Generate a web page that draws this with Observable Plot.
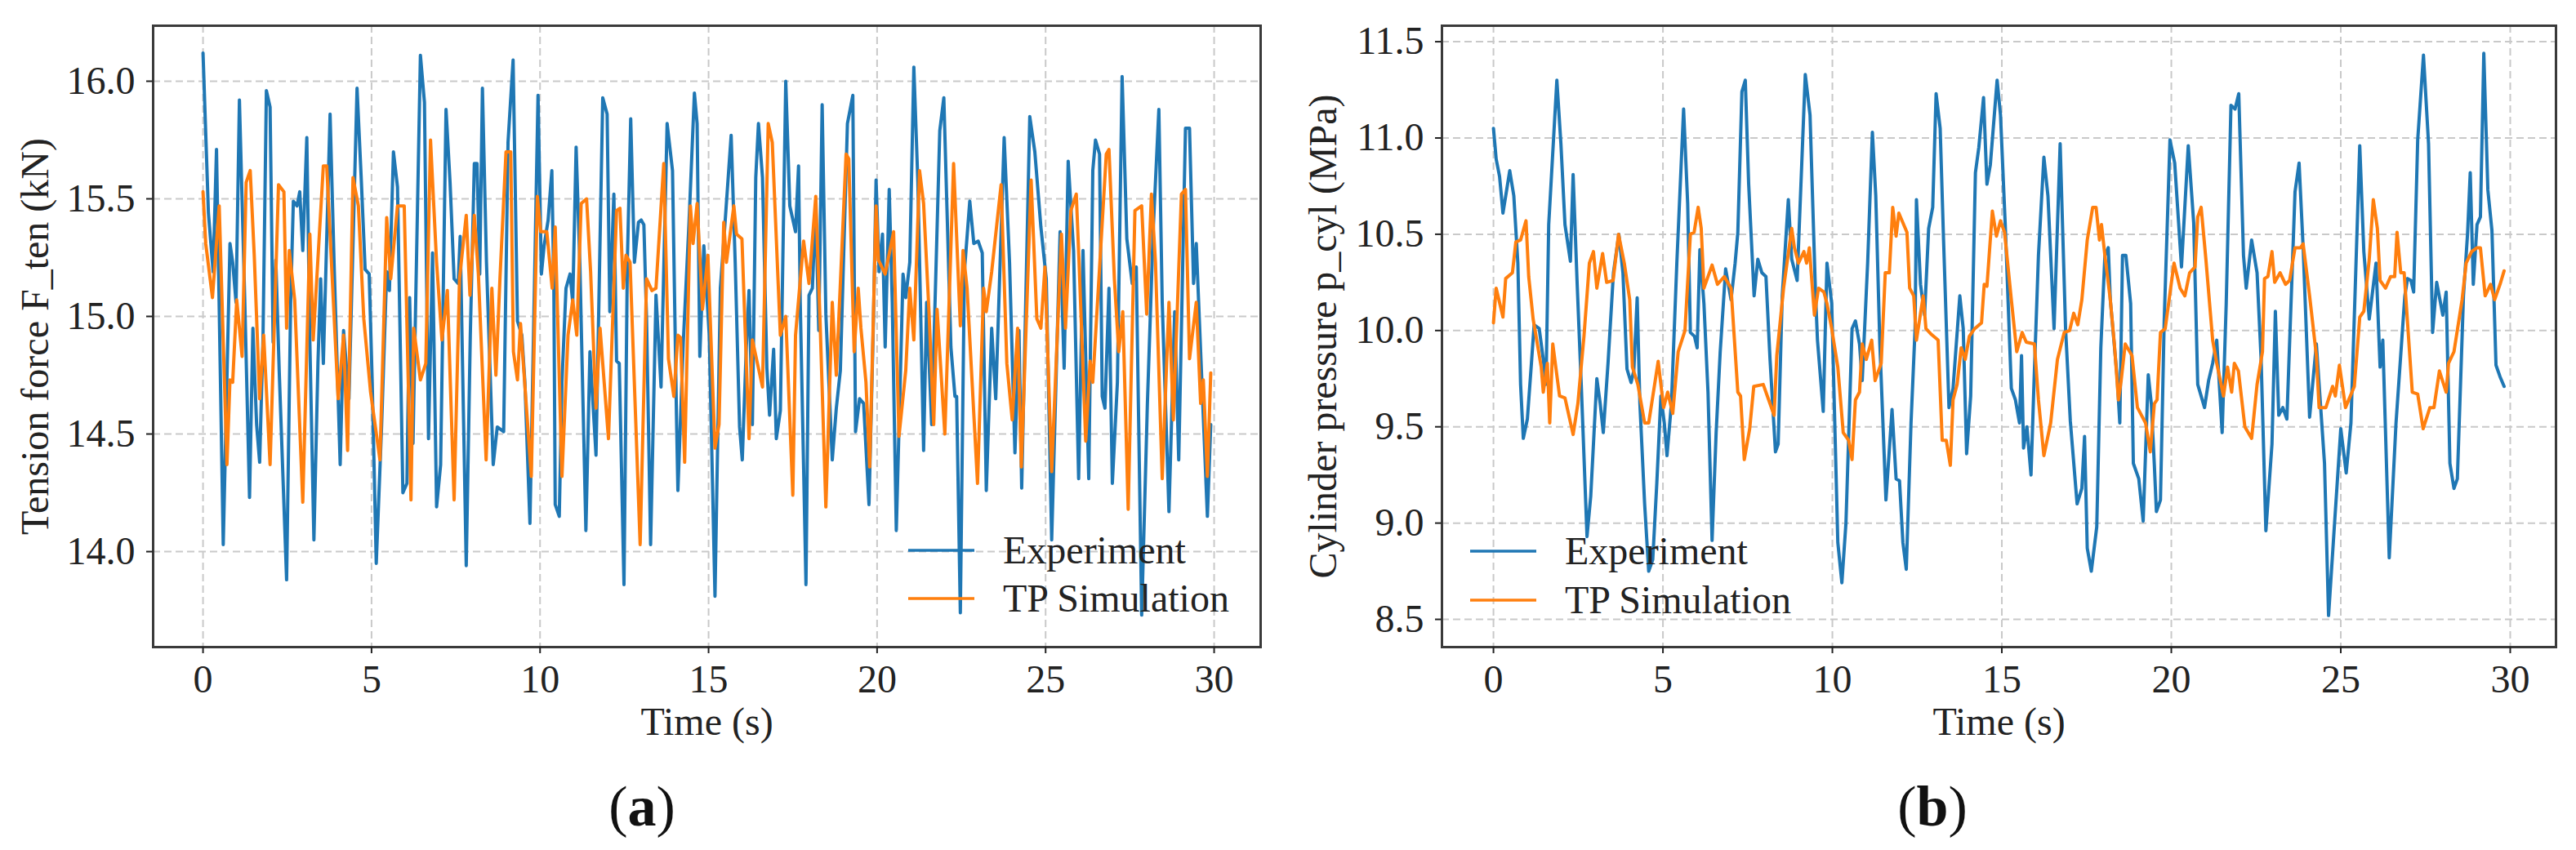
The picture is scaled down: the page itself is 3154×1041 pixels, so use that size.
<!DOCTYPE html>
<html>
<head>
<meta charset="utf-8">
<script src="https://cdn.jsdelivr.net/npm/d3@7"></script>
<script src="https://cdn.jsdelivr.net/npm/@observablehq/plot@0.6"></script>
<style>
  body { margin: 0; background: #fff; }
  #wrap { position: relative; width: 3154px; height: 1041px; background: #fff; overflow: hidden; }
  #wrap svg.plot { position: absolute; top: 0; }
  .leg { position: absolute; font-family: "Liberation Serif", serif; font-size: 48px; color: #222; line-height: 1; white-space: nowrap; }
  .panel-tag { position: absolute; font-family: "Liberation Serif", serif; font-size: 70px; color: #111; line-height: 1; transform: translate(-50%, -50%); }
</style>
</head>
<body>
<div id="wrap"></div>
<script>
// ---------- data: [time s, value] ----------
const timeTicks = [0, 5, 10, 15, 20, 25, 30];
const tensionTicks = [14.0, 14.5, 15.0, 15.5, 16.0];
const pressureTicks = [8.5, 9.0, 9.5, 10.0, 10.5, 11.0, 11.5];
const seriesNames = ["Experiment", "TP Simulation"];

// (a) tension force F_ten (kN)
const tensionExp = [
  [0,16.12],[0.16,15.44],[0.30,15.19],[0.40,15.71],[0.60,14.03],[0.80,15.31],[0.88,15.23],[0.98,15.06],[1.08,15.92],[1.24,15.06],
  [1.38,14.23],[1.48,14.95],[1.59,14.54],[1.68,14.38],[1.78,14.91],[1.88,15.96],[1.99,15.89],[2.08,14.89],[2.16,15.24],[2.26,14.77],
  [2.48,13.88],[2.60,15.06],[2.68,15.49],[2.79,15.47],[2.87,15.53],[2.96,15.28],[3.08,15.76],[3.17,14.89],[3.29,14.05],[3.41,14.80],
  [3.49,15.16],[3.57,14.80],[3.77,15.86],[3.89,15.22],[4.07,14.37],[4.17,14.94],[4.33,14.65],[4.57,15.97],[4.69,15.60],[4.81,15.20],
  [4.93,15.18],[5.02,14.72],[5.14,13.95],[5.30,14.54],[5.45,15.19],[5.53,15.11],[5.65,15.70],[5.77,15.55],[5.93,14.25],[6.05,14.29],
  [6.13,15.08],[6.23,14.46],[6.45,16.11],[6.57,15.91],[6.69,14.48],[6.81,15.27],[6.93,14.19],[7.05,14.37],[7.21,15.88],[7.33,15.57],
  [7.45,15.16],[7.57,15.14],[7.63,15.34],[7.81,13.94],[7.93,14.92],[8.05,15.65],[8.13,15.65],[8.21,15.18],[8.29,15.97],[8.41,15.23],
  [8.61,14.37],[8.73,14.53],[8.92,14.51],[9.05,15.74],[9.20,16.09],[9.33,14.98],[9.46,14.92],[9.55,14.72],[9.70,14.12],[9.94,15.94],
  [10.04,15.18],[10.12,15.30],[10.24,15.41],[10.35,15.62],[10.41,15.11],[10.45,14.20],[10.57,14.15],[10.65,14.72],[10.77,15.12],[10.89,15.18],
  [10.97,15.06],[11.07,15.72],[11.18,15.23],[11.36,14.09],[11.48,14.85],[11.66,14.41],[11.86,15.93],[11.99,15.86],[12.07,15.02],[12.19,15.52],
  [12.27,14.81],[12.35,14.80],[12.49,13.86],[12.59,15.23],[12.69,15.84],[12.80,15.23],[12.92,15.40],[13.00,15.41],[13.08,15.39],[13.16,14.99],
  [13.28,14.03],[13.44,15.09],[13.59,14.70],[13.77,15.82],[13.93,15.62],[14.05,14.56],[14.09,14.26],[14.25,14.89],[14.42,15.40],[14.58,15.95],
  [14.66,15.82],[14.74,14.83],[14.86,15.30],[15.02,14.92],[15.19,13.81],[15.35,15.12],[15.47,15.36],[15.67,15.77],[15.79,15.23],[15.92,14.53],
  [16.00,14.39],[16.12,14.87],[16.20,15.11],[16.30,14.54],[16.40,15.59],[16.48,15.82],[16.60,15.59],[16.73,14.78],[16.81,14.58],[16.93,14.86],
  [17.01,14.48],[17.13,14.60],[17.29,16.00],[17.41,15.47],[17.58,15.36],[17.67,15.64],[17.72,15.06],[17.89,13.86],[17.98,15.09],[18.08,15.12],
  [18.18,15.47],[18.27,14.94],[18.37,15.90],[18.48,15.01],[18.67,14.39],[18.79,14.61],[18.91,14.77],[19.12,15.82],[19.28,15.94],[19.36,14.51],
  [19.48,14.65],[19.60,14.63],[19.76,14.20],[19.89,14.97],[19.97,15.58],[20.06,15.19],[20.16,15.35],[20.24,14.87],[20.36,15.54],[20.45,15.06],
  [20.57,14.09],[20.77,15.18],[20.85,15.08],[20.97,15.23],[21.09,16.06],[21.21,15.57],[21.38,14.43],[21.47,15.06],[21.62,14.54],[21.86,15.79],
  [21.98,15.93],[22.19,14.87],[22.31,14.66],[22.36,14.66],[22.47,13.74],[22.59,15.19],[22.75,15.49],[22.87,15.31],[23.00,15.32],[23.12,15.27],
  [23.24,14.26],[23.40,14.95],[23.52,14.65],[23.77,15.76],[23.93,15.23],[24.09,14.42],[24.21,14.94],[24.29,14.27],[24.53,15.85],[24.68,15.70],
  [24.86,15.38],[25.02,15.16],[25.18,14.05],[25.43,15.36],[25.55,14.78],[25.67,15.66],[25.83,15.28],[25.98,14.31],[26.11,15.28],[26.28,14.31],
  [26.40,15.62],[26.48,15.75],[26.60,15.69],[26.68,14.66],[26.76,14.61],[26.88,15.12],[26.98,14.29],[27.13,14.72],[27.27,16.02],[27.41,15.33],
  [27.57,15.14],[27.69,15.21],[27.85,13.73],[28.02,14.63],[28.19,15.36],[28.36,15.88],[28.46,15.06],[28.66,14.17],[28.83,15.02],[28.95,14.39],
  [29.15,15.80],[29.27,15.80],[29.39,15.14],[29.47,15.31],[29.60,14.85],[29.80,14.15],[29.90,14.54]
];
const tensionSim = [
  [0,15.53],[0.08,15.31],[0.28,15.08],[0.48,15.47],[0.71,14.37],[0.80,14.73],[0.88,14.72],[1.00,15.07],[1.16,14.83],[1.28,15.57],
  [1.40,15.62],[1.52,15.26],[1.68,14.65],[1.80,14.92],[1.99,14.37],[2.24,15.56],[2.40,15.53],[2.48,14.95],[2.56,15.28],[2.72,15.07],
  [2.96,14.21],[3.17,15.35],[3.27,14.90],[3.57,15.64],[3.67,15.64],[4.01,14.65],[4.17,14.92],[4.29,14.43],[4.45,15.59],[4.61,15.47],
  [4.77,14.99],[4.97,14.68],[5.25,14.39],[5.45,15.42],[5.57,15.16],[5.77,15.47],[5.97,15.47],[6.17,14.22],[6.25,14.95],[6.45,14.73],
  [6.61,14.80],[6.75,15.75],[6.93,15.23],[7.09,14.90],[7.25,15.11],[7.45,14.22],[7.61,15.16],[7.81,15.43],[7.92,15.09],[8.05,15.43],
  [8.17,15.18],[8.40,14.39],[8.57,15.12],[8.69,14.75],[8.81,15.16],[8.99,15.70],[9.13,15.70],[9.21,14.85],[9.33,14.73],[9.42,14.97],
  [9.74,14.32],[9.92,15.51],[10.02,15.36],[10.20,15.36],[10.36,15.12],[10.45,15.38],[10.65,14.32],[10.83,14.92],[10.97,15.07],[11.09,14.92],
  [11.22,15.48],[11.38,15.50],[11.50,15.19],[11.66,14.61],[11.78,14.95],[12.03,14.48],[12.27,15.45],[12.37,15.46],[12.47,15.12],[12.55,15.26],
  [12.67,15.23],[12.97,14.03],[13.16,15.16],[13.32,15.11],[13.44,15.12],[13.67,15.65],[13.81,14.82],[13.97,14.66],[14.09,14.92],[14.17,14.91],
  [14.29,14.38],[14.46,15.47],[14.54,15.31],[14.66,15.48],[14.82,15.03],[14.98,15.26],[15.19,14.44],[15.31,14.54],[15.45,15.40],[15.53,15.23],
  [15.75,15.47],[15.83,15.35],[15.99,15.33],[16.20,14.48],[16.30,14.90],[16.60,14.70],[16.77,15.82],[16.89,15.74],[17.13,14.92],[17.29,15.00],
  [17.50,14.24],[17.58,14.92],[17.82,15.32],[17.98,15.14],[18.18,15.51],[18.31,14.97],[18.48,14.19],[18.67,15.06],[18.79,14.75],[19.08,15.69],
  [19.16,15.67],[19.32,14.85],[19.44,15.12],[19.52,14.95],[19.67,14.72],[19.78,14.36],[19.97,15.47],[20.04,15.24],[20.24,15.18],[20.49,15.36],
  [20.65,14.49],[20.85,14.77],[20.97,15.12],[21.09,14.90],[21.26,15.62],[21.38,15.48],[21.54,15.02],[21.68,14.54],[21.78,15.03],[22.01,14.50],
  [22.27,15.65],[22.47,14.96],[22.55,15.28],[22.67,15.12],[22.98,14.29],[23.16,15.12],[23.24,15.02],[23.40,15.19],[23.68,15.56],[23.85,14.80],
  [24.01,14.56],[24.17,14.95],[24.28,14.36],[24.57,15.58],[24.74,14.99],[24.86,14.95],[24.98,15.21],[25.18,14.34],[25.47,15.35],[25.59,14.95],
  [25.75,15.45],[25.91,15.52],[25.99,15.24],[26.19,14.47],[26.32,14.81],[26.40,14.72],[26.80,15.69],[26.88,15.71],[27.04,15.16],[27.17,14.85],
  [27.29,15.02],[27.45,14.18],[27.65,15.45],[27.85,15.47],[28.00,15.01],[28.14,15.52],[28.26,15.23],[28.46,14.31],[28.66,15.06],[28.79,14.56],
  [29.03,15.52],[29.15,15.54],[29.27,14.82],[29.47,15.06],[29.60,14.63],[29.68,14.73],[29.80,14.32],[29.90,14.76]
];

// (b) cylinder pressure p_cyl (MPa)
const pressureExp = [
  [0,11.05],[0.08,10.89],[0.18,10.80],[0.28,10.61],[0.48,10.83],[0.60,10.70],[0.72,10.35],[0.80,9.72],[0.88,9.44],[1.00,9.54],
  [1.12,9.83],[1.20,10.03],[1.35,10.01],[1.47,9.85],[1.55,9.72],[1.63,10.55],[1.87,11.30],[1.99,10.97],[2.11,10.55],[2.27,10.36],
  [2.35,10.81],[2.47,10.24],[2.59,9.72],[2.76,8.93],[2.87,9.14],[3.05,9.75],[3.15,9.62],[3.24,9.47],[3.38,9.83],[3.54,10.30],
  [3.70,10.50],[3.82,10.30],[3.94,9.80],[4.06,9.73],[4.14,9.79],[4.24,10.17],[4.32,9.62],[4.46,9.10],[4.58,8.75],[4.70,8.81],
  [4.82,9.21],[4.94,9.66],[5.04,9.52],[5.12,9.35],[5.25,9.62],[5.41,10.35],[5.61,11.15],[5.73,10.66],[5.81,9.99],[5.93,9.97],
  [6.01,9.91],[6.09,10.42],[6.21,10.14],[6.33,9.68],[6.45,8.91],[6.57,9.47],[6.69,9.89],[6.85,10.32],[7.01,10.16],[7.13,10.35],
  [7.21,10.51],[7.33,11.24],[7.43,11.30],[7.53,10.76],[7.69,10.18],[7.80,10.37],[7.92,10.30],[8.04,10.28],[8.16,9.85],[8.32,9.37],
  [8.40,9.41],[8.52,10.18],[8.70,10.68],[8.80,10.37],[8.96,10.26],[9.20,11.33],[9.34,11.12],[9.50,10.20],[9.56,9.95],[9.73,9.58],
  [9.84,10.35],[9.98,10.14],[10.16,8.90],[10.28,8.69],[10.40,9.00],[10.58,10.01],[10.68,10.05],[10.80,9.93],[10.88,9.74],[11.04,10.35],
  [11.18,11.03],[11.28,10.70],[11.40,9.93],[11.58,9.12],[11.76,9.59],[11.88,9.23],[11.98,9.22],[12.08,8.90],[12.18,8.76],[12.32,9.52],
  [12.44,10.01],[12.48,10.68],[12.60,10.24],[12.72,10.08],[12.84,10.53],[12.96,10.64],[13.06,11.23],[13.18,11.05],[13.28,10.47],[13.44,9.60],
  [13.56,9.70],[13.76,10.18],[13.86,10.01],[13.96,9.36],[14.08,9.66],[14.22,10.82],[14.32,10.95],[14.46,11.21],[14.56,10.76],[14.66,10.86],
  [14.86,11.30],[14.96,11.12],[15.10,10.55],[15.28,9.70],[15.40,9.64],[15.52,9.52],[15.58,9.87],[15.64,9.39],[15.74,9.50],[15.86,9.25],
  [15.96,9.79],[16.08,10.39],[16.24,10.90],[16.36,10.70],[16.54,10.01],[16.72,10.97],[16.88,10.01],[17.02,9.53],[17.22,9.10],[17.36,9.18],
  [17.44,9.45],[17.52,8.87],[17.64,8.75],[17.80,8.98],[17.92,9.91],[18.04,10.39],[18.14,10.43],[18.20,10.16],[18.40,9.76],[18.48,9.52],
  [18.56,10.39],[18.66,10.39],[18.80,10.14],[18.88,9.31],[19.04,9.23],[19.17,9.01],[19.32,9.77],[19.41,9.62],[19.50,9.30],[19.56,9.06],
  [19.68,9.12],[19.79,10.05],[19.96,10.99],[20.10,10.87],[20.30,10.33],[20.50,10.96],[20.66,10.56],[20.78,9.72],[20.98,9.60],[21.10,9.74],
  [21.22,9.83],[21.34,9.95],[21.50,9.47],[21.62,10.14],[21.76,11.17],[21.88,11.15],[21.99,11.23],[22.13,10.39],[22.21,10.22],[22.37,10.47],
  [22.53,10.30],[22.65,9.85],[22.79,8.96],[22.97,9.41],[23.07,10.10],[23.17,9.56],[23.29,9.60],[23.41,9.54],[23.65,10.72],[23.77,10.87],
  [23.89,10.43],[24.08,9.55],[24.28,9.93],[24.52,9.31],[24.64,8.52],[24.78,8.90],[25.00,9.49],[25.16,9.26],[25.30,9.52],[25.56,10.96],
  [25.68,10.41],[25.84,10.06],[26.04,10.35],[26.16,9.81],[26.24,9.95],[26.43,8.82],[26.63,9.52],[26.89,10.18],[26.97,10.27],[27.07,10.26],
  [27.15,10.20],[27.27,10.99],[27.44,11.43],[27.59,10.97],[27.71,9.99],[27.83,10.25],[28.01,10.08],[28.11,10.20],[28.22,9.31],[28.34,9.18],
  [28.44,9.23],[28.62,10.18],[28.74,10.50],[28.82,10.82],[28.91,10.24],[29.02,10.55],[29.12,10.59],[29.22,11.44],[29.34,10.73],[29.46,10.52],
  [29.58,9.82],[29.70,9.76],[29.82,9.71]
];
const pressureSim = [
  [0,10.04],[0.08,10.22],[0.28,10.07],[0.36,10.27],[0.56,10.30],[0.66,10.46],[0.80,10.47],[0.96,10.57],[1.04,10.28],[1.17,10.06],
  [1.41,9.81],[1.47,9.68],[1.59,9.83],[1.66,9.52],[1.75,9.93],[1.95,9.66],[2.11,9.65],[2.35,9.46],[2.49,9.62],[2.67,9.97],
  [2.83,10.35],[2.95,10.41],[3.05,10.22],[3.22,10.40],[3.34,10.25],[3.53,10.26],[3.69,10.50],[3.86,10.35],[4.02,10.16],[4.10,9.81],
  [4.26,9.72],[4.46,9.52],[4.58,9.52],[4.86,9.84],[5.02,9.60],[5.14,9.68],[5.29,9.57],[5.45,9.89],[5.65,10.00],[5.81,10.50],
  [5.92,10.51],[6.04,10.64],[6.13,10.53],[6.21,10.22],[6.45,10.34],[6.61,10.24],[6.81,10.28],[7.01,10.22],[7.21,9.68],[7.29,9.66],
  [7.40,9.33],[7.56,9.49],[7.68,9.71],[7.96,9.72],[8.08,9.66],[8.28,9.56],[8.36,9.87],[8.56,10.22],[8.80,10.53],[8.88,10.43],
  [9.00,10.35],[9.16,10.41],[9.24,10.35],[9.32,10.43],[9.47,10.08],[9.59,10.22],[9.75,10.20],[9.84,10.14],[9.98,10.01],[10.16,9.81],
  [10.32,9.47],[10.48,9.43],[10.58,9.33],[10.68,9.64],[10.80,9.68],[10.88,9.93],[11.00,9.85],[11.16,9.95],[11.26,9.74],[11.44,9.83],
  [11.56,10.30],[11.68,10.30],[11.78,10.64],[11.88,10.49],[11.96,10.61],[12.20,10.51],[12.28,10.22],[12.40,10.18],[12.48,9.95],[12.68,10.18],
  [12.76,10.01],[12.92,9.98],[13.12,9.95],[13.24,9.43],[13.36,9.43],[13.48,9.30],[13.56,9.64],[13.68,9.72],[13.80,9.91],[13.92,9.85],
  [14.04,9.97],[14.20,10.01],[14.40,10.04],[14.48,10.24],[14.56,10.23],[14.72,10.62],[14.84,10.49],[14.96,10.57],[15.08,10.51],[15.28,10.16],
  [15.44,9.89],[15.60,9.99],[15.72,9.94],[15.96,9.93],[16.08,9.64],[16.24,9.35],[16.44,9.52],[16.64,9.85],[16.84,9.99],[17.00,10.00],
  [17.12,10.09],[17.24,10.03],[17.36,10.16],[17.52,10.47],[17.68,10.64],[17.78,10.64],[17.88,10.47],[17.94,10.55],[18.04,10.39],[18.20,10.16],
  [18.32,9.93],[18.44,9.64],[18.52,9.74],[18.64,9.93],[18.84,9.87],[19.00,9.60],[19.12,9.56],[19.24,9.52],[19.38,9.37],[19.50,9.62],
  [19.58,9.64],[19.68,9.99],[19.82,10.01],[20.08,10.35],[20.26,10.22],[20.40,10.18],[20.54,10.30],[20.70,10.33],[20.78,10.59],[20.88,10.64],
  [21.02,10.37],[21.22,9.95],[21.34,9.83],[21.54,9.66],[21.66,9.81],[21.78,9.68],[21.86,9.83],[21.98,9.79],[22.17,9.50],[22.37,9.44],
  [22.53,9.72],[22.69,9.89],[22.75,10.27],[22.85,10.28],[22.97,10.41],[23.05,10.25],[23.21,10.30],[23.37,10.24],[23.49,10.26],[23.65,10.43],
  [23.81,10.43],[23.89,10.45],[24.08,10.18],[24.28,9.87],[24.36,9.60],[24.56,9.60],[24.76,9.71],[24.84,9.66],[24.96,9.82],[25.14,9.60],
  [25.40,9.71],[25.56,10.07],[25.68,10.10],[25.84,10.37],[25.96,10.68],[26.08,10.53],[26.16,10.26],[26.32,10.22],[26.47,10.28],[26.59,10.28],
  [26.66,10.51],[26.77,10.30],[26.87,10.30],[27.11,9.68],[27.27,9.67],[27.43,9.49],[27.63,9.60],[27.75,9.60],[27.91,9.79],[28.11,9.68],
  [28.18,9.83],[28.34,9.89],[28.58,10.16],[28.70,10.35],[28.86,10.41],[29.02,10.43],[29.12,10.43],[29.26,10.18],[29.42,10.24],[29.54,10.16],
  [29.70,10.24],[29.82,10.31]
];

// ---------- styling ----------
const FONT = "'Liberation Serif', 'DejaVu Serif', serif";
const BLUE = "#1f77b4";
const ORANGE = "#ff7f0e";
const GRID = {stroke: "#c9c9c9", strokeOpacity: 1, strokeWidth: 2, strokeDasharray: "9,5"};

function panel({exp, sim, yTicks, yDomain, xDomain, width, marginLeft, marginRight, yLabel, yLabelDx}) {
  return Plot.plot({
    width, height: 920,
    marginLeft, marginRight, marginTop: 31, marginBottom: 128,
    style: {fontFamily: FONT, fontSize: "48px", color: "#222", background: "transparent", overflow: "visible"},
    x: {domain: xDomain},
    y: {domain: yDomain},
    marks: [
      Plot.gridX(timeTicks, GRID),
      Plot.gridY(yTicks, GRID),
      Plot.line(exp, {x: d => d[0], y: d => d[1], stroke: BLUE, strokeWidth: 4}),
      Plot.line(sim, {x: d => d[0], y: d => d[1], stroke: ORANGE, strokeWidth: 4}),
      Plot.frame({stroke: "#3a3a3a", strokeWidth: 3}),
      Plot.axisX(timeTicks, {tickSize: 8, tickPadding: 13, strokeWidth: 2, label: null, fontSize: 48}),
      Plot.axisY(yTicks, {tickSize: 8, tickPadding: 14, strokeWidth: 2, tickFormat: d3.format(".1f"), label: null, fontSize: 48}),
      Plot.text(["Time (s)"], {text: d => d, frameAnchor: "bottom", dy: 92, lineAnchor: "middle", fontSize: 48}),
      Plot.text([yLabel], {text: d => d, frameAnchor: "left", dx: yLabelDx, rotate: -90, lineAnchor: "middle", textAnchor: "middle", fontSize: 48})
    ]
  });
}

const wrap = document.getElementById("wrap");

const left = panel({
  exp: tensionExp, sim: tensionSim,
  yTicks: tensionTicks, yDomain: [13.594, 16.236], xDomain: [-1.48, 31.38],
  width: 1577, marginLeft: 187, marginRight: 34,
  yLabel: "Tension force F_ten (kN)", yLabelDx: -144
});
left.classList.add("plot");
left.style.left = "0px";
wrap.appendChild(left);

const right = panel({
  exp: pressureExp, sim: pressureSim,
  yTicks: pressureTicks, yDomain: [8.356, 11.583], xDomain: [-1.52, 31.35],
  width: 1577, marginLeft: 188, marginRight: 25,
  yLabel: "Cylinder pressure p_cyl (MPa)", yLabelDx: -145
});
right.classList.add("plot");
right.style.left = "1577px";
wrap.appendChild(right);

// legends (no frame, drawn over the axes)
function legend(x, y, rowGap) {
  [BLUE, ORANGE].forEach((c, i) => {
    const row = document.createElement("div");
    row.className = "leg";
    row.style.left = x + "px";
    row.style.top = (y + i * rowGap - 24) + "px";
    row.style.height = "48px";
    row.style.display = "flex";
    row.style.alignItems = "center";
    row.innerHTML = `<svg width="81" height="48" style="margin-right:35px"><line x1="0" x2="81" y1="24" y2="24" stroke="${c}" stroke-width="3.5"/></svg><span>${seriesNames[i]}</span>`;
    wrap.appendChild(row);
  });
}
legend(1112, 674, 59);
legend(1800, 675, 60);

// panel tags
[["a", 786], ["b", 2366]].forEach(([t, x]) => {
  const el = document.createElement("div");
  el.className = "panel-tag";
  el.style.left = x + "px";
  el.style.top = "988px";
  el.innerHTML = `(<b>${t}</b>)`;
  wrap.appendChild(el);
});
</script>
</body>
</html>
